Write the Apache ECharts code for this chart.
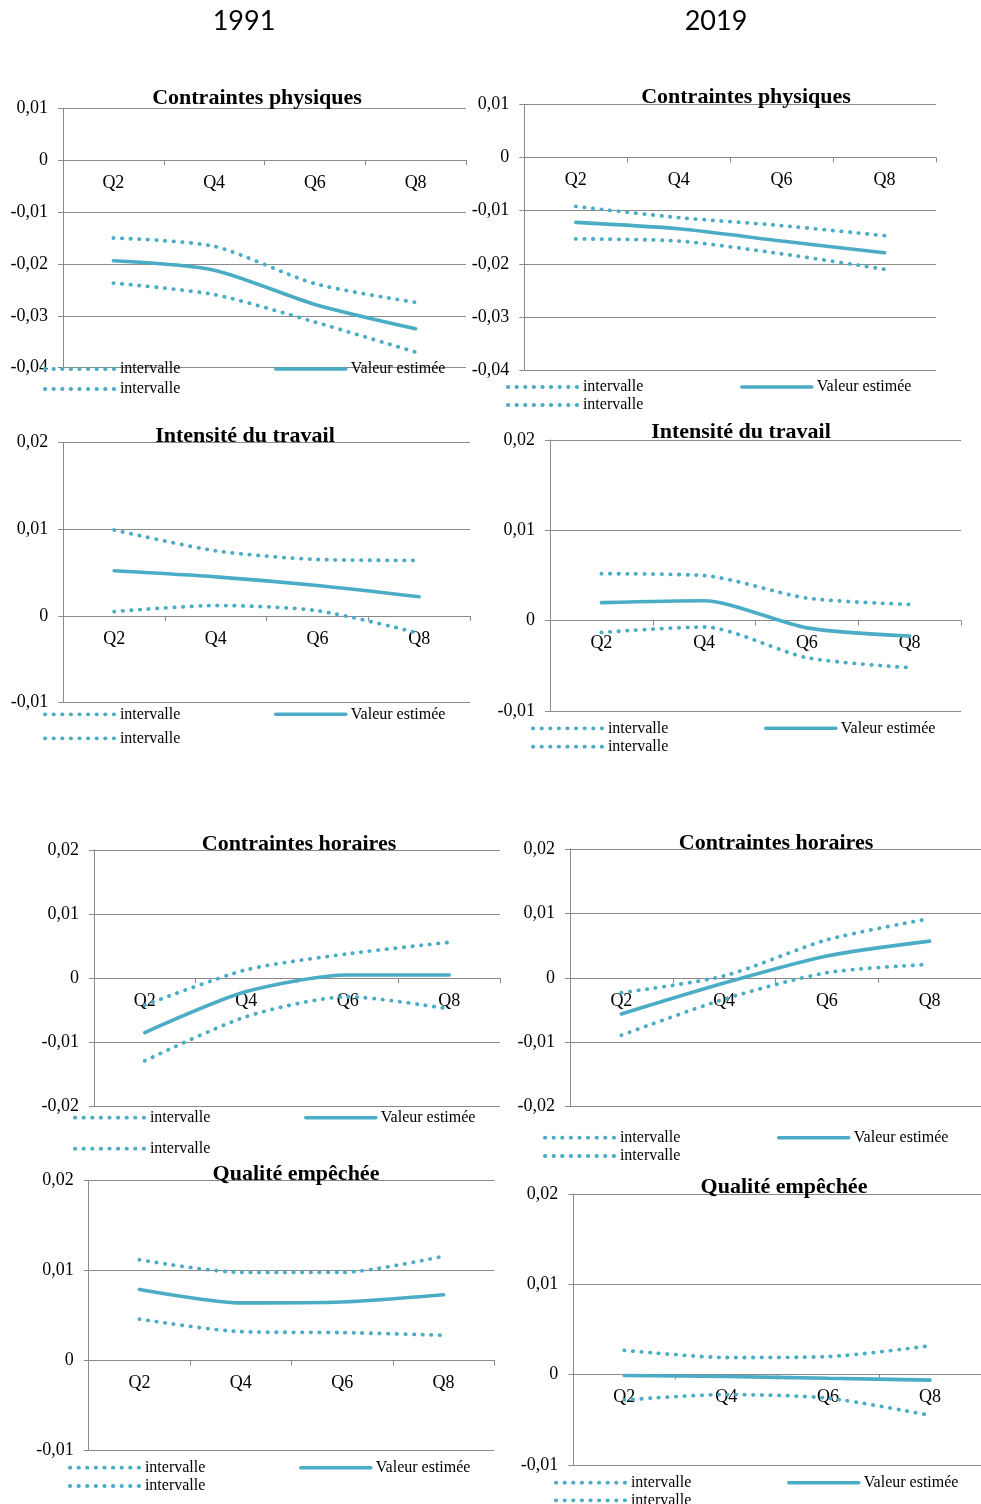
<!DOCTYPE html>
<html><head><meta charset="utf-8">
<script src="https://cdn.jsdelivr.net/npm/echarts@6/dist/echarts.min.js"></script>
<style>html,body{margin:0;padding:0;background:#fff}#c{width:981px;height:1504px}</style>
</head><body><div id="c"></div>
<script>
// ---- data ----
const categories = ['Q2', 'Q4', 'Q6', 'Q8'];
const yearHeaders = ['1991', '2019'];
const panelTitles = ['Contraintes physiques', 'Contraintes physiques', 'Intensité du travail', 'Intensité du travail',
  'Contraintes horaires', 'Contraintes horaires', 'Qualité empêchée', 'Qualité empêchée'];
const seriesNames = ['intervalle', 'Valeur estimée'];
const yRangeCP = [-0.04, 0.01];
const yRangeIT = [-0.01, 0.02];
const yRangeCH = [-0.02, 0.02];
const yRangeQE = [-0.01, 0.02];
const yStep = 0.01;

const cp1991_est = [-0.0194, -0.0212, -0.0278, -0.0325];
const cp1991_up  = [-0.0150, -0.0166, -0.0238, -0.0274];
const cp1991_low = [-0.0237, -0.0259, -0.0312, -0.0370];
const cp2019_est = [-0.0122, -0.0134, -0.0157, -0.0179];
const cp2019_up  = [-0.0092, -0.0113, -0.0128, -0.0147];
const cp2019_low = [-0.0153, -0.0157, -0.0181, -0.0210];
const it1991_est = [0.0052, 0.0045, 0.0035, 0.0022];
const it1991_up  = [0.0099, 0.0075, 0.0065, 0.0064];
const it1991_low = [0.0005, 0.0012, 0.0006, -0.0020];
const it2019_est = [0.0020, 0.0022, -0.0008, -0.0017];
const it2019_up  = [0.0052, 0.0050, 0.0025, 0.0018];
const it2019_low = [-0.0013, -0.0007, -0.0041, -0.0052];
const ch1991_est = [-0.0085, -0.0021, 0.0005, 0.0005];
const ch1991_up  = [-0.0042, 0.0013, 0.0038, 0.0056];
const ch1991_low = [-0.0129, -0.0060, -0.0029, -0.0048];
const ch2019_est = [-0.0056, -0.0008, 0.0034, 0.0057];
const ch2019_up  = [-0.0023, 0.0003, 0.0059, 0.0092];
const ch2019_low = [-0.0089, -0.0033, 0.0008, 0.0021];
const qe1991_est = [0.0079, 0.0064, 0.0065, 0.0073];
const qe1991_up  = [0.0112, 0.0098, 0.0098, 0.0116];
const qe1991_low = [0.0046, 0.0032, 0.0031, 0.0028];
const qe2019_est = [-0.0001, -0.0002, -0.0004, -0.0006];
const qe2019_up  = [0.0027, 0.0019, 0.0020, 0.0032];
const qe2019_low = [-0.0028, -0.0022, -0.0026, -0.0045];

// ---- layout ----
const panels = [
  {grid:[63,108.3,403,259.4],  range:yRangeCP, d:[cp1991_up,cp1991_est,cp1991_low], t:[257,87.5],  lg:[368,388,43,274]},
  {grid:[524.3,104.3,411.7,266], range:yRangeCP, d:[cp2019_up,cp2019_est,cp2019_low], t:[746,86.5], lg:[386,404,506,740]},
  {grid:[63.3,442.3,406.7,260.4], range:yRangeIT, d:[it1991_up,it1991_est,it1991_low], t:[245,425], lg:[713.3,737.3,43,274]},
  {grid:[550,440,411,271],     range:yRangeIT, d:[it2019_up,it2019_est,it2019_low], t:[741,421],   lg:[727.3,745.7,531,764]},
  {grid:[94,850,406,256.3],    range:yRangeCH, d:[ch1991_up,ch1991_est,ch1991_low], t:[299,833],   lg:[1116.7,1147.7,73,304]},
  {grid:[570,849,412,257.7],   range:yRangeCH, d:[ch2019_up,ch2019_est,ch2019_low], t:[776,832],   lg:[1136.7,1155,543,777]},
  {grid:[88.7,1180.7,405.6,269.6], range:yRangeQE, d:[qe1991_up,qe1991_est,qe1991_low], t:[296,1163], lg:[1466.7,1485,68,299]},
  {grid:[573.3,1194,412,271],  range:yRangeQE, d:[qe2019_up,qe2019_est,qe2019_low], t:[784,1176],  lg:[1481.7,1499.3,554,787]}
];

const LINE = '#4BACC6';
const GREY = '#8a8a8a';
const SERIF = '"Liberation Serif", "Times New Roman", serif';
const fmt = v => Math.abs(v) < 1e-9 ? '0' : v.toFixed(2).replace('.', ',');

const option = {animation:false, backgroundColor:'#fff', title:[], grid:[], xAxis:[], yAxis:[], series:[], legend:[]};

yearHeaders.forEach((y, i) => {
  option.title.push({text:y, left: i === 0 ? 244 : 716, top: 8, textAlign:'center', padding:0,
    textStyle:{fontFamily:'Lato, "Open Sans", sans-serif', fontWeight:'normal', fontSize:27, color:'#000'}});
});

const dotStyle = {color:LINE, width:3.8, type:[0.4, 8.2], cap:'round'};
const solidStyle = {color:LINE, width:3.6, type:'solid', cap:'round'};
const hiddenSymbol = {color:'rgba(0,0,0,0)', borderColor:'rgba(0,0,0,0)', borderWidth:0, opacity:0};

panels.forEach((p, i) => {
  const zeroOffset = -p.grid[3] * (0 - p.range[0]) / (p.range[1] - p.range[0]);
  option.title.push({text:panelTitles[i], left:p.t[0], top:p.t[1], textAlign:'center', padding:0,
    textStyle:{fontFamily:SERIF, fontWeight:'bold', fontSize:22, color:'#000'}});
  option.grid.push({left:p.grid[0], top:p.grid[1], width:p.grid[2], height:p.grid[3], containLabel:false});
  option.xAxis.push({type:'category', gridIndex:i, data:categories, boundaryGap:true, position:'bottom', offset:zeroOffset,
    axisLine:{show:true, onZero:false, lineStyle:{color:GREY, width:1}},
    axisTick:{show:true, length:5, lineStyle:{color:GREY}},
    axisLabel:{margin:14, color:'#000', fontFamily:SERIF, fontSize:18, interval:0},
    splitLine:{show:false}});
  option.yAxis.push({type:'value', gridIndex:i, min:p.range[0], max:p.range[1], interval:yStep,
    axisLine:{show:true, lineStyle:{color:GREY, width:1}},
    axisTick:{show:true, length:5, lineStyle:{color:GREY}},
    axisLabel:{margin:15, color:'#000', fontFamily:SERIF, fontSize:18, formatter:fmt, padding:[3,0,0,0]},
    splitLine:{show:true, lineStyle:{color:GREY, width:1}}});
  const names = [seriesNames[0], seriesNames[1], seriesNames[0]];
  p.d.forEach((arr, k) => {
    option.series.push({type:'line', name:names[k], xAxisIndex:i, yAxisIndex:i, data:arr,
      symbol:'none', smooth:0.25, itemStyle:{color:LINE},
      lineStyle: k === 1 ? solidStyle : dotStyle, z: k === 1 ? 3 : 2});
  });
  const lgBase = {orient:'horizontal', padding:0, itemWidth:70, itemHeight:14, selectedMode:false,
    itemStyle:hiddenSymbol, textStyle:{fontFamily:SERIF, fontSize:16, color:'#000'}};
  option.legend.push(Object.assign({}, lgBase, {data:[seriesNames[0]], left:p.lg[2], top:p.lg[0]-7,
    lineStyle:{width:3.8}}));
  option.legend.push(Object.assign({}, lgBase, {data:[seriesNames[1]], left:p.lg[3], top:p.lg[0]-7,
    lineStyle:{width:3.6}}));
  option.legend.push(Object.assign({}, lgBase, {data:[seriesNames[0]], left:p.lg[2], top:p.lg[1]-7,
    lineStyle:{width:3.8}}));
});

const chart = echarts.init(document.getElementById('c'), null, {renderer:'canvas'});
chart.setOption(option);
</script>
</body></html>
